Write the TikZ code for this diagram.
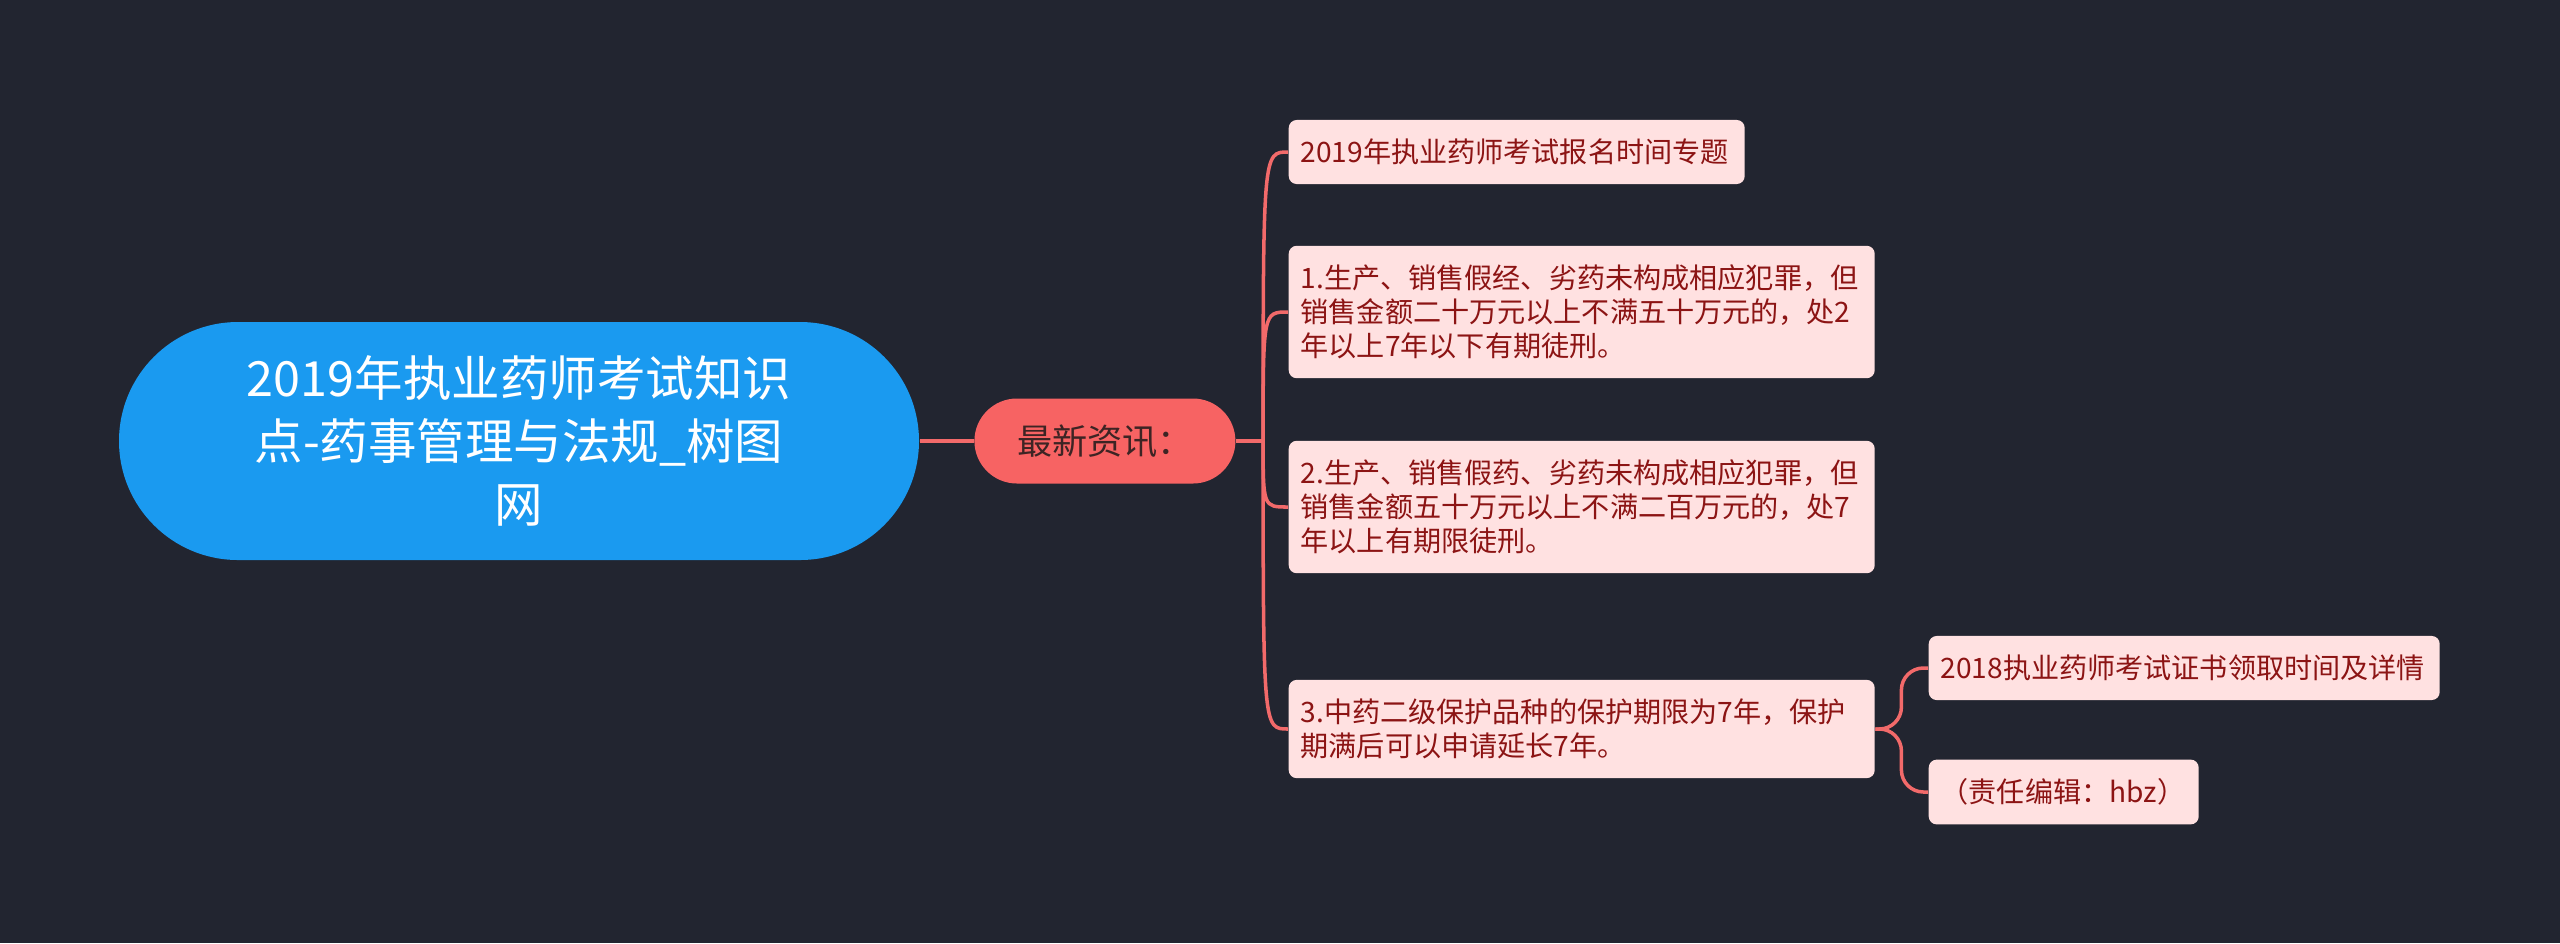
\documentclass[tikz,border=0pt]{standalone}
\usepackage{fontspec}
\setmainfont{Noto Sans CJK SC}
\usepackage{xcolor}
\usepackage{tikz}
\usetikzlibrary{positioning,calc}
\definecolor{night}{HTML}{222530}
\definecolor{skyblue}{HTML}{1A9AF0}
\definecolor{coral}{HTML}{F76363}
\definecolor{coralline}{HTML}{F26A6A}
\definecolor{blush}{HTML}{FFE1E1}
\definecolor{wine}{HTML}{8C1414}
\definecolor{cocoa}{HTML}{3D2424}

\begin{document}
\begin{tikzpicture}[root/.style={fill=skyblue,text=white,align=center,minimum width=8cm,minimum height=2.38cm,rounded corners=1.19cm,font=\fontsize{13.8pt}{18pt}\selectfont},hub/.style={fill=coral,text=cocoa,minimum width=2.61cm,minimum height=0.85cm,rounded corners=0.425cm,font=\fontsize{10pt}{12pt}\selectfont},leaf/.style={fill=blush,text=wine,align=left,anchor=west,inner xsep=0.12cm,inner ysep=0.19cm,rounded corners=0.08cm,font=\fontsize{8pt}{9.7pt}\selectfont},link/.style={draw=coralline,line width=1pt}]
\useasboundingbox[fill=night] (0,0) rectangle (25.6,-9.43);
\node[root] (root) at (5.19,-4.41) {2019年执业药师考试知识\\点-药事管理与法规\_树图\\网};
\node[hub,right=0.54 of root] (news) {最新资讯：};
\node[leaf,text width=4.32cm] (c1) at (12.88,-1.52) {2019年执业药师考试报名时间专题};
\node[leaf,text width=5.62cm] (c2) at (12.88,-3.12) {1.生产、销售假经、劣药未构成相应犯罪，但\\销售金额二十万元以上不满五十万元的，处2\\年以上7年以下有期徒刑。};
\node[leaf,text width=5.62cm] (c3) at (12.88,-5.07) {2.生产、销售假药、劣药未构成相应犯罪，但\\销售金额五十万元以上不满二百万元的，处7\\年以上有期限徒刑。};
\node[leaf,text width=5.62cm] (c4) at (12.88,-7.29) {3.中药二级保护品种的保护期限为7年，保护\\期满后可以申请延长7年。};
\node[leaf,text width=4.87cm] (g1) at (19.28,-6.68) {2018执业药师考试证书领取时间及详情};
\node[leaf,text width=2.46cm] (g2) at (19.28,-7.92) {（责任编辑：hbz）};
\draw[link] (root) -- (news);
\draw[link] (news.east) -- ++(0.27,0) coordinate (sp);
\foreach \c in {c1,c2,c3,c4} \draw[link] (sp) .. controls (sp |- \c.west) .. (\c.west);
\foreach \g in {g1,g2} \draw[link,rounded corners=0.22cm] (c4.east) -- ++(0.26,0) |- (\g.west);
\end{tikzpicture}
\end{document}
